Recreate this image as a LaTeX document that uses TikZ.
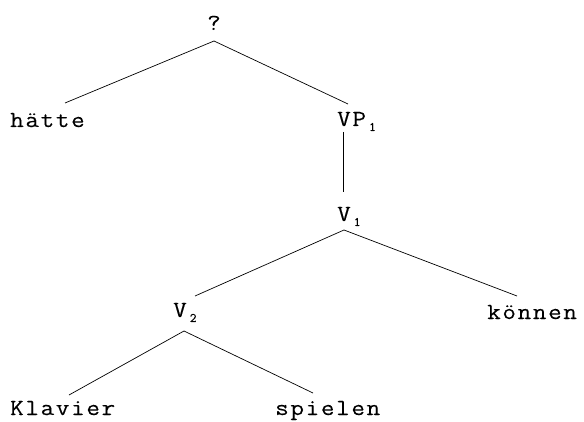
\documentclass[tikz,border=0pt]{standalone}
\usepackage{fontspec}
\newfontfamily\treefont{Latin Modern Mono}[FakeStretch=1.15, LetterSpace=7, FakeBold=0.15]
\newfontfamily\subfont{Latin Modern Mono}[FakeBold=0.15]
\newcommand\treesub[1]{\hspace{3pt}\raisebox{-5pt}{\subfont\fontsize{13}{13}\selectfont #1}}
\tikzset{
  lab/.style={inner sep=0pt, anchor=base west, font=\treefont\fontsize{23}{23}\selectfont},
  edge/.style={line width=0.7pt}
}
\begin{document}
\begin{tikzpicture}[x=1pt,y=1pt]
\useasboundingbox (0,0) rectangle (584,421);
\node[lab] (q) at (207,391) {?};
\node[lab] (hatte) at (10,294) {hätte};
\node[lab] (vp) at (337,295) {VP\treesub{1}};
\node[lab] (v1) at (337,200) {V\treesub{1}};
\node[lab] (v2) at (173,104) {V\treesub{2}};
\node[lab] (konnen) at (487,102) {können};
\node[lab] (klavier) at (10,6) {Klavier};
\node[lab] (spielen) at (275,6) {spielen};

\draw[edge] ([shift={(7pt,-11pt)}]q.base west) -- ([shift={(55pt,24pt)}]hatte.base west);
\draw[edge] ([shift={(7pt,-11pt)}]q.base west) -- ([shift={(11pt,22pt)}]vp.base west);
\draw[edge] ([shift={(6pt,-6pt)}]vp.base west) -- ([shift={(6pt,29pt)}]v1.base west);
\draw[edge] ([shift={(7pt,-9pt)}]v1.base west) -- ([shift={(22pt,21pt)}]v2.base west);
\draw[edge] ([shift={(7pt,-9pt)}]v1.base west) -- ([shift={(30pt,23pt)}]konnen.base west);
\draw[edge] ([shift={(11pt,-14pt)}]v2.base west) -- ([shift={(59pt,20pt)}]klavier.base west);
\draw[edge] ([shift={(11pt,-14pt)}]v2.base west) -- ([shift={(38pt,22pt)}]spielen.base west);
\end{tikzpicture}
\end{document}
